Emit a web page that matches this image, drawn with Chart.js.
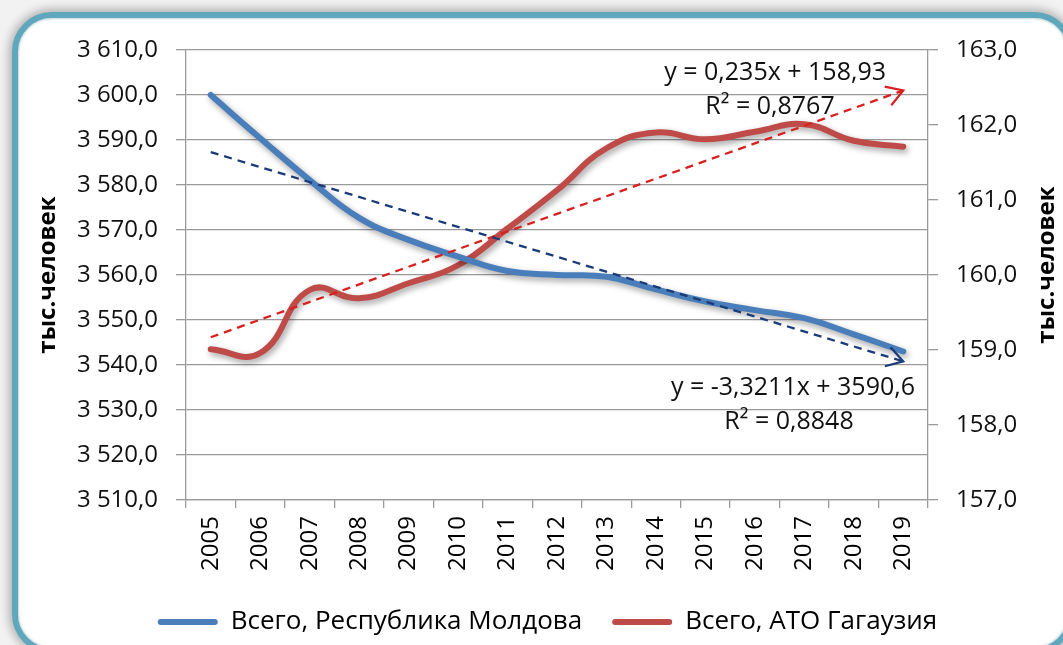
<!DOCTYPE html>
<html>
<head>
<meta charset="utf-8">
<script src="https://cdn.jsdelivr.net/npm/chart.js@4/dist/chart.umd.min.js"></script>
<style>
  html, body { margin: 0; padding: 0; width: 1063px; height: 645px; overflow: hidden; background: #f2f2f2; }
  #frame {
    position: absolute; left: 12px; top: 12px; width: 1050px; height: 630px;
    border: 6px solid #5fa7bc; border-radius: 40px; background: #fff;
    box-shadow: 0 0 10px 3px rgba(0,0,0,0.28), inset 0 0 3px rgba(40,90,110,0.5);
  }
  #wrap { position: absolute; left: 0; top: 0; width: 1063px; height: 645px; }
</style>
</head>
<body>
<div id="frame"></div>
<div id="wrap"><canvas id="graph" width="1063" height="645"></canvas></div>
<script>
const years = ['2005','2006','2007','2008','2009','2010','2011','2012','2013','2014','2015','2016','2017','2018','2019'];
const moldova = [3600.0, 3590.4, 3581.1, 3572.7, 3567.8, 3564.1, 3560.9, 3560.0, 3559.6, 3556.8, 3554.1, 3552.2, 3550.4, 3546.8, 3543.0];
const gagauzia = [159.01, 158.96, 159.80, 159.69, 159.89, 160.13, 160.62, 161.13, 161.69, 161.90, 161.81, 161.91, 162.01, 161.79, 161.71];
// trend lines: only the end points
const moldovaTrend = [3587.3, null, null, null, null, null, null, null, null, null, null, null, null, null, 3540.8];
const gagauziaTrend = [159.17, null, null, null, null, null, null, null, null, null, null, null, null, null, 162.46];
const leftTicks = [3510, 3610, 10];
const rightTicks = [157, 163, 1];

const FONT = 'Open Sans';
const BLUE = '#4A7EBB';
const RED = '#BE4B48';

function fmt(v) {
    let s = v.toFixed(1).replace('.', ',');
    let parts = s.split(',');
    parts[0] = parts[0].replace(/\B(?=(\d{3})+(?!\d))/g, ' ');
    return parts.join(',');
}

const extras = {
    id: 'extras',
    beforeDatasetDraw(chart, args) {
        if (args.index < 2) {
            const ctx = chart.ctx;
            ctx.save();
            ctx.shadowColor = 'rgba(0,0,0,0.38)';
            ctx.shadowBlur = 6;
            ctx.shadowOffsetX = 2;
            ctx.shadowOffsetY = 3;
        }
    },
    afterDatasetDraw(chart, args) {
        const ctx = chart.ctx;
        if (args.index < 2) {
            ctx.restore();
            return;
        }
        // open arrow at the end of each trend line
        const pts = args.meta.data.filter(p => !p.skip);
        const a = pts[0], b = pts[pts.length - 1];
        const ang = Math.atan2(b.y - a.y, b.x - a.x);
        const len = 19, spread = 0.55;
        ctx.save();
        ctx.strokeStyle = chart.data.datasets[args.index].borderColor;
        ctx.lineWidth = 2.2;
        ctx.beginPath();
        ctx.moveTo(b.x - len * Math.cos(ang - spread), b.y - len * Math.sin(ang - spread));
        ctx.lineTo(b.x, b.y);
        ctx.lineTo(b.x - len * Math.cos(ang + spread), b.y - len * Math.sin(ang + spread));
        ctx.stroke();
        ctx.restore();
    },
    afterDraw(chart) {
        const ctx = chart.ctx;
        ctx.save();
        ctx.fillStyle = '#111';
        ctx.font = '25px "' + FONT + '"';
        ctx.textBaseline = 'middle';
        ctx.textAlign = 'right';
        ctx.fillText('y = 0,235x + 158,93', 886, 73);
        ctx.fillText('y = -3,3211x + 3590,6', 915, 388);
        ctx.textAlign = 'center';
        ctx.fillText('R² = 0,8767', 770, 107);
        ctx.fillText('R² = 0,8848', 789, 422);
        // right axis title, reads bottom to top like the left one
        ctx.font = 'bold 24px "' + FONT + '"';
        ctx.fillStyle = '#000';
        ctx.translate(1047, 265);
        ctx.rotate(-Math.PI / 2);
        ctx.fillText('тыс.человек', 0, 0);
        ctx.restore();
    }
};

const ctx = document.getElementById('graph').getContext('2d');
new Chart(ctx, {
    type: 'line',
    data: {
        labels: years,
        datasets: [
            {
                label: 'Всего, Республика Молдова',
                data: moldova,
                yAxisID: 'y',
                borderColor: BLUE,
                backgroundColor: BLUE,
                borderWidth: 6,
                borderCapStyle: 'round',
                tension: 0.45,
                pointRadius: 0,
                order: 2
            },
            {
                label: 'Всего, АТО Гагаузия',
                data: gagauzia,
                yAxisID: 'y1',
                borderColor: RED,
                backgroundColor: RED,
                borderWidth: 6,
                borderCapStyle: 'round',
                tension: 0.45,
                pointRadius: 0,
                order: 2
            },
            {
                label: 'trend1',
                data: moldovaTrend,
                yAxisID: 'y',
                borderColor: '#1B3B78',
                borderWidth: 2.3,
                borderDash: [8, 6],
                spanGaps: true,
                pointRadius: 0,
                order: 1
            },
            {
                label: 'trend2',
                data: gagauziaTrend,
                yAxisID: 'y1',
                borderColor: '#D8201E',
                borderWidth: 2.3,
                borderDash: [8, 6],
                spanGaps: true,
                pointRadius: 0,
                order: 1
            }
        ]
    },
    options: {
        responsive: false,
        animation: false,
        devicePixelRatio: 1,
        layout: { padding: { left: 32, right: 0, top: 50, bottom: 0 } },
        plugins: {
            tooltip: { enabled: false },
            legend: {
                position: 'bottom',
                labels: {
                    color: '#000',
                    font: { family: FONT, size: 26 },
                    boxWidth: 60,
                    boxHeight: 6,
                    padding: 30,
                    useBorderRadius: true,
                    borderRadius: 3,
                    filter: item => item.datasetIndex < 2,
                    generateLabels(chart) {
                        const items = Chart.defaults.plugins.legend.labels.generateLabels(chart);
                        items.forEach(it => { it.lineWidth = 0; });
                        return items;
                    }
                }
            }
        },
        scales: {
            x: {
                offset: true,
                grid: { display: true, drawOnChartArea: false, offset: true, tickLength: 8, color: '#9a9a9a', lineWidth: 1.3 },
                border: { color: '#9a9a9a', width: 1.3 },
                ticks: { color: '#000', font: { family: FONT, size: 24 }, maxRotation: 90, minRotation: 90, padding: 8 },
                afterFit(s) { s.height = 79; }
            },
            y: {
                position: 'left',
                min: leftTicks[0], max: leftTicks[1],
                grid: { color: '#9a9a9a', lineWidth: 1.3, tickLength: 10 },
                border: { color: '#9a9a9a', width: 1.3 },
                ticks: { stepSize: leftTicks[2], color: '#111', font: { family: FONT, size: 24 }, padding: 18, callback: v => fmt(v) },
                title: { display: true, text: 'тыс.человек', color: '#000', font: { family: FONT, size: 24, weight: 'bold' }, padding: { top: 2, bottom: 0 } },
                afterFit(s) { s.width = 154; }
            },
            y1: {
                position: 'right',
                min: rightTicks[0], max: rightTicks[1],
                grid: { drawOnChartArea: false, color: '#9a9a9a', lineWidth: 1.3, tickLength: 10 },
                border: { color: '#9a9a9a', width: 1.3 },
                ticks: { stepSize: rightTicks[2], color: '#111', font: { family: FONT, size: 24 }, padding: 18, callback: v => fmt(v) },
                afterFit(s) { s.width = 135; }
            }
        }
    },
    plugins: [extras]
});
</script>
</body>
</html>
